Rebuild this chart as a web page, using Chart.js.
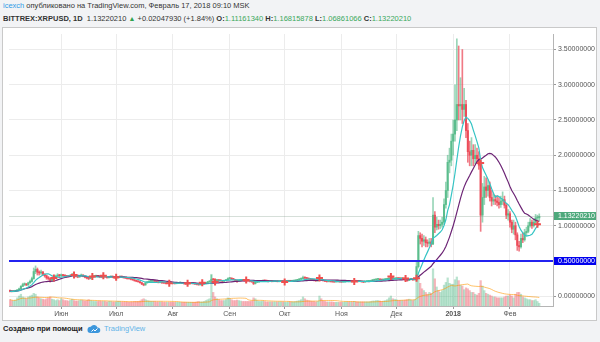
<!DOCTYPE html>
<html>
<head>
<meta charset="utf-8">
<script src="https://cdn.jsdelivr.net/npm/chart.js@4.4.0/dist/chart.umd.min.js"></script>
<style>
  body { margin: 0; width: 600px; height: 342px; background: #f2f3f5; overflow: hidden; position: relative;
         font-family: "Liberation Sans", Arial, sans-serif; }
  .hdr { position: absolute; left: 3px; font-size: 7.5px; line-height: 10px; color: #333; white-space: nowrap; }
  #h1 { top: 1px; }
  #h2 { top: 13.5px; }
  .nick { color: #2f9be6; }
  .g { color: #3aa85c; }
  .tri { color: #2ea24e; font-size: 7px; }
  #box { position: absolute; left: 2px; top: 27px; width: 593px; height: 292px; border: 1px solid #c9c9c9; background: #fff; }
  #foot { position: absolute; left: 3px; top: 324px; font-size: 7.5px; line-height: 10px; white-space: nowrap; }
  #foot .made { color: #222; font-weight: bold; }
  #foot svg { position: absolute; left: 84px; top: 0px; }
  #foot .tv { position: absolute; left: 101px; top: 0; color: #62b3e8; }
</style>
</head>
<body>
<div class="hdr" id="h1"><span class="nick">icexch</span> опубликовано на TradingView.com, Февраль 17, 2018 09:10 MSK</div>
<div class="hdr" id="h2"><b>BITTREX:XRPUSD, 1D</b>&nbsp; 1.13220210 <span class="tri">▲</span> +0.02047930 (+1.84%) <b>O:</b><span class="g">1.11161340</span> <b>H:</b><span class="g">1.16815878</span> <b>L:</b><span class="g">1.06861066</span> <b>C:</b><span class="g">1.13220210</span></div>
<div id="box"><canvas id="c" width="593" height="292"></canvas></div>
<div id="foot"><span class="made">Создано при помощи</span>
  <svg width="14" height="10" viewBox="0 0 28 20"><path d="M7 18h14a5.5 5.5 0 0 0 0-11 7.5 7.5 0 0 0-13.5-1.5A6 6 0 0 0 7 18z" fill="#3d97dc"/><path d="M9 15l4-4 3 3 5-5" stroke="#fff" stroke-width="2" fill="none"/></svg>
  <span class="tv">TradingView</span></div>
<script>
(() => {
    'use strict'

    // daily candles from 2017-05-04 to 2018-02-17 (open = previous close)
    const startDate = '2017-05-04'
    const totalDays = 297          // includes a few empty days on the right
    const firstOpen = 0.074

    const closes = [
        // May
        0.072, 0.066, 0.070, 0.076, 0.088, 0.105, 0.140, 0.165, 0.172, 0.160, 0.190, 0.210, 0.250, 0.350, 0.380, 0.340, 0.330, 0.345, 0.310, 0.290, 0.260, 0.250, 0.225, 0.245, 0.270, 0.285, 0.300, 0.290,
        // Jun
        0.300, 0.292, 0.288, 0.282, 0.280, 0.298, 0.310, 0.292, 0.280, 0.272, 0.290, 0.300, 0.282, 0.268, 0.258, 0.250, 0.268, 0.280, 0.282, 0.290, 0.282, 0.272, 0.270, 0.280, 0.272, 0.262, 0.270, 0.280, 0.272, 0.262,
        // Jul
        0.262, 0.270, 0.280, 0.272, 0.262, 0.258, 0.250, 0.248, 0.240, 0.232, 0.220, 0.212, 0.205, 0.192, 0.172, 0.160, 0.190, 0.200, 0.210, 0.212, 0.220, 0.212, 0.202, 0.195, 0.200, 0.190, 0.188, 0.182, 0.190, 0.188, 0.186,
        // Aug
        0.180, 0.178, 0.182, 0.188, 0.190, 0.182, 0.178, 0.172, 0.175, 0.180, 0.182, 0.178, 0.172, 0.168, 0.162, 0.165, 0.172, 0.180, 0.192, 0.202, 0.212, 0.240, 0.232, 0.222, 0.228, 0.222, 0.220, 0.212, 0.220, 0.232, 0.250,
        // Sep
        0.252, 0.245, 0.238, 0.222, 0.215, 0.222, 0.228, 0.225, 0.220, 0.218, 0.215, 0.210, 0.205, 0.180, 0.198, 0.202, 0.210, 0.212, 0.222, 0.218, 0.215, 0.210, 0.212, 0.208, 0.210, 0.212, 0.208, 0.210, 0.212, 0.210,
        // Oct
        0.210, 0.212, 0.215, 0.212, 0.215, 0.218, 0.225, 0.232, 0.240, 0.250, 0.262, 0.258, 0.252, 0.245, 0.238, 0.232, 0.225, 0.218, 0.222, 0.255, 0.232, 0.222, 0.212, 0.208, 0.212, 0.206, 0.204, 0.202, 0.204, 0.206, 0.204,
        // Nov
        0.202, 0.204, 0.208, 0.212, 0.210, 0.212, 0.210, 0.218, 0.212, 0.210, 0.212, 0.205, 0.200, 0.208, 0.210, 0.212, 0.220, 0.228, 0.232, 0.238, 0.240, 0.232, 0.230, 0.236, 0.240, 0.245, 0.255, 0.262, 0.245, 0.250,
        // Dec
        0.252, 0.250, 0.248, 0.252, 0.245, 0.232, 0.225, 0.240, 0.242, 0.232, 0.238, 0.420, 0.860, 0.820, 0.780, 0.800, 0.760, 0.750, 0.770, 0.740, 1.150, 0.980, 1.020, 1.000, 1.020, 1.050, 1.300, 1.500, 1.900, 1.930, 2.200,
        // Jan
        2.300, 2.500, 2.720, 2.700, 2.720, 2.650, 2.720, 2.350, 2.050, 2.000, 2.070, 1.950, 2.000, 1.950, 1.860, 1.150, 1.400, 1.550, 1.500, 1.570, 1.400, 1.350, 1.370, 1.350, 1.330, 1.300, 1.350, 1.370, 1.290, 1.150, 1.170,
        // Feb
        1.050, 0.950, 1.000, 0.870, 0.720, 0.700, 0.820, 0.800, 0.900, 0.920, 1.000, 1.050, 1.000, 1.050, 1.110, 1.1116, 1.1322
    ]

    const highs = [
        0.080, 0.075, 0.078, 0.082, 0.095, 0.115, 0.150, 0.185, 0.190, 0.180, 0.200, 0.230, 0.270, 0.400, 0.430, 0.400, 0.360, 0.370, 0.350, 0.320, 0.300, 0.280, 0.260, 0.260, 0.290, 0.300, 0.320, 0.310,
        0.315, 0.310, 0.300, 0.295, 0.292, 0.305, 0.325, 0.315, 0.296, 0.285, 0.300, 0.315, 0.305, 0.285, 0.275, 0.265, 0.275, 0.290, 0.292, 0.300, 0.295, 0.285, 0.280, 0.290, 0.285, 0.275, 0.280, 0.290, 0.285, 0.275,
        0.275, 0.278, 0.288, 0.285, 0.275, 0.268, 0.262, 0.258, 0.252, 0.245, 0.235, 0.225, 0.215, 0.208, 0.195, 0.178, 0.198, 0.212, 0.222, 0.222, 0.230, 0.225, 0.215, 0.205, 0.208, 0.202, 0.196, 0.192, 0.196, 0.195, 0.194,
        0.186, 0.186, 0.188, 0.195, 0.198, 0.192, 0.186, 0.180, 0.182, 0.186, 0.190, 0.186, 0.180, 0.175, 0.170, 0.172, 0.178, 0.186, 0.198, 0.210, 0.220, 0.300, 0.252, 0.238, 0.236, 0.232, 0.228, 0.225, 0.228, 0.238, 0.262,
        0.265, 0.258, 0.250, 0.240, 0.228, 0.230, 0.236, 0.232, 0.228, 0.225, 0.222, 0.218, 0.212, 0.208, 0.205, 0.210, 0.216, 0.218, 0.230, 0.226, 0.222, 0.218, 0.218, 0.215, 0.216, 0.218, 0.215, 0.216, 0.218, 0.216,
        0.216, 0.218, 0.222, 0.220, 0.220, 0.225, 0.232, 0.240, 0.250, 0.262, 0.285, 0.272, 0.262, 0.255, 0.248, 0.240, 0.235, 0.228, 0.230, 0.272, 0.262, 0.235, 0.225, 0.216, 0.218, 0.215, 0.210, 0.208, 0.210, 0.212, 0.210,
        0.208, 0.210, 0.215, 0.218, 0.216, 0.218, 0.216, 0.225, 0.222, 0.216, 0.218, 0.214, 0.208, 0.214, 0.216, 0.218, 0.226, 0.235, 0.238, 0.245, 0.248, 0.242, 0.236, 0.242, 0.246, 0.252, 0.262, 0.275, 0.268, 0.258,
        0.260, 0.258, 0.256, 0.260, 0.255, 0.248, 0.236, 0.248, 0.250, 0.245, 0.248, 0.480, 0.920, 0.900, 0.880, 0.860, 0.840, 0.800, 0.820, 0.820, 1.400, 1.200, 1.120, 1.080, 1.080, 1.120, 1.380, 1.620, 2.000, 2.100, 2.300,
        2.500, 3.000, 3.650, 3.550, 3.100, 3.500, 2.950, 2.780, 2.450, 2.200, 2.250, 2.150, 2.150, 2.100, 2.050, 1.900, 1.600, 1.700, 1.680, 1.650, 1.620, 1.500, 1.450, 1.430, 1.420, 1.400, 1.420, 1.480, 1.420, 1.320, 1.230,
        1.200, 1.080, 1.080, 1.050, 0.900, 0.780, 0.880, 0.900, 0.950, 0.980, 1.050, 1.100, 1.080, 1.100, 1.160, 1.150, 1.16815878
    ]

    const lows = [
        0.060, 0.060, 0.062, 0.068, 0.074, 0.085, 0.100, 0.135, 0.150, 0.150, 0.155, 0.180, 0.200, 0.240, 0.320, 0.300, 0.300, 0.310, 0.290, 0.270, 0.240, 0.230, 0.200, 0.215, 0.240, 0.260, 0.275, 0.275,
        0.282, 0.280, 0.278, 0.272, 0.270, 0.276, 0.292, 0.285, 0.272, 0.262, 0.268, 0.285, 0.275, 0.258, 0.245, 0.235, 0.245, 0.262, 0.272, 0.278, 0.275, 0.262, 0.262, 0.265, 0.265, 0.255, 0.258, 0.265, 0.262, 0.252,
        0.252, 0.256, 0.266, 0.265, 0.256, 0.250, 0.242, 0.240, 0.232, 0.225, 0.212, 0.205, 0.198, 0.185, 0.165, 0.148, 0.155, 0.185, 0.195, 0.202, 0.205, 0.205, 0.195, 0.188, 0.190, 0.182, 0.180, 0.175, 0.178, 0.180, 0.178,
        0.174, 0.172, 0.175, 0.180, 0.184, 0.178, 0.172, 0.166, 0.168, 0.172, 0.175, 0.172, 0.166, 0.160, 0.155, 0.158, 0.162, 0.170, 0.178, 0.188, 0.198, 0.208, 0.222, 0.215, 0.218, 0.214, 0.212, 0.205, 0.208, 0.218, 0.228,
        0.240, 0.236, 0.230, 0.212, 0.195, 0.210, 0.218, 0.218, 0.212, 0.210, 0.208, 0.202, 0.196, 0.165, 0.172, 0.192, 0.198, 0.205, 0.208, 0.210, 0.208, 0.202, 0.205, 0.202, 0.204, 0.205, 0.202, 0.204, 0.205, 0.204,
        0.204, 0.205, 0.208, 0.206, 0.208, 0.212, 0.215, 0.222, 0.230, 0.238, 0.245, 0.248, 0.242, 0.235, 0.230, 0.222, 0.216, 0.210, 0.212, 0.220, 0.225, 0.215, 0.205, 0.200, 0.202, 0.200, 0.198, 0.196, 0.198, 0.200, 0.198,
        0.195, 0.198, 0.202, 0.205, 0.204, 0.206, 0.204, 0.208, 0.206, 0.204, 0.205, 0.198, 0.192, 0.198, 0.204, 0.206, 0.210, 0.218, 0.225, 0.228, 0.232, 0.226, 0.224, 0.226, 0.232, 0.236, 0.242, 0.245, 0.236, 0.240,
        0.242, 0.242, 0.240, 0.244, 0.238, 0.222, 0.212, 0.222, 0.232, 0.225, 0.228, 0.235, 0.400, 0.740, 0.700, 0.720, 0.700, 0.700, 0.720, 0.700, 0.730, 0.900, 0.940, 0.950, 0.960, 0.980, 1.020, 1.250, 1.400, 1.750, 1.850,
        2.000, 2.200, 2.350, 2.500, 2.500, 2.450, 2.550, 2.250, 1.900, 1.850, 1.850, 1.850, 1.880, 1.880, 1.800, 0.920, 1.050, 1.300, 1.400, 1.420, 1.350, 1.280, 1.300, 1.300, 1.280, 1.250, 1.260, 1.300, 1.250, 1.100, 1.080,
        0.980, 0.900, 0.880, 0.800, 0.650, 0.640, 0.680, 0.760, 0.780, 0.860, 0.900, 0.980, 0.960, 0.980, 1.020, 1.070, 1.06861066
    ]

    // volume, millions
    const volumes = [
        14, 12, 11, 13, 18, 22, 26, 20, 18, 16, 20, 22, 24, 28, 26, 20, 18, 16, 15, 14, 16, 18, 20, 15, 14, 12, 14, 12,
        16, 14, 12, 12, 11, 13, 15, 12, 11, 11, 12, 13, 12, 11, 12, 14, 12, 11, 10, 10, 10, 11, 10, 10, 10, 9, 10, 10, 9, 9,
        9, 10, 10, 9, 9, 9, 9, 8, 9, 9, 10, 10, 10, 11, 14, 16, 14, 12, 11, 10, 10, 10, 9, 9, 9, 9, 8, 8, 8, 8, 8,
        8, 8, 8, 8, 8, 8, 8, 8, 8, 8, 8, 8, 8, 9, 10, 9, 9, 10, 12, 14, 16, 70, 30, 20, 16, 14, 12, 12, 12, 14, 18,
        16, 14, 12, 12, 13, 12, 11, 10, 10, 10, 10, 10, 11, 18, 16, 12, 10, 10, 11, 10, 9, 9, 9, 9, 9, 9, 9, 9, 9, 9,
        8, 8, 9, 9, 9, 9, 10, 11, 12, 14, 20, 16, 13, 12, 11, 10, 10, 9, 10, 22, 16, 11, 10, 9, 9, 9, 9, 8, 8, 8, 8,
        8, 8, 9, 9, 9, 9, 9, 10, 9, 9, 9, 9, 9, 9, 9, 9, 10, 11, 11, 12, 12, 11, 10, 11, 12, 14, 18, 22, 16, 15,
        14, 12, 12, 12, 12, 13, 14, 15, 13, 12, 14, 62, 70, 50, 38, 34, 30, 26, 30, 28, 82, 60, 42, 34, 30, 34, 46, 52, 62, 50, 48,
        48, 58, 64, 56, 46, 44, 36, 40, 38, 34, 30, 30, 26, 24, 28, 56, 44, 34, 28, 26, 24, 22, 20, 20, 18, 18, 18, 18, 20, 22, 22,
        24, 22, 18, 26, 30, 30, 26, 20, 18, 16, 14, 14, 12, 12, 14, 10, 6
    ]

    // red cross marks on the price line (day index, price)
    const markerDays = [24, 35, 45, 51, 58, 87, 97, 105, 112, 129, 150, 169, 188, 208, 216, 222, 257, 288]
    const markerPrices = [0.26, 0.30, 0.28, 0.29, 0.27, 0.185, 0.185, 0.19, 0.20, 0.23, 0.20, 0.26, 0.21, 0.28, 0.25, 0.255, 1.89, 1.02]

    const tickDates = ['2017-06-01', '2017-07-01', '2017-08-01', '2017-09-01', '2017-10-01', '2017-11-01', '2017-12-01', '2018-01-01', '2018-02-01']
    const tickNames = ['Июн', 'Июл', 'Авг', 'Сен', 'Окт', 'Ноя', 'Дек', '2018', 'Фев']

    const lastPrice = 1.1322021
    const levelPrice = 0.5

    const fastLen = 9
    const slowLen = 25
    const volLen = 20

    // ---------------------------------------------------------------
    var labels = []
    var t0 = Date.parse(startDate + 'T00:00:00Z')
    for (var i = 0; i < totalDays; i++) {
        labels.push(new Date(t0 + i * 86400000).toISOString().slice(0, 10))
    }
    function tickIdx(i) { return tickDates.indexOf(labels[i]) }

    var opens = closes.map((c, i) => i === 0 ? firstOpen : closes[i - 1])
    var up = closes.map((c, i) => c >= opens[i])

    function sma(arr, n) {
        return arr.map((v, i) => {
            var s = 0, k = 0
            for (var j = Math.max(0, i - n + 1); j <= i; j++) { s += arr[j]; k++ }
            return s / k
        })
    }

    var wicks = closes.map((c, i) => [Math.min(lows[i], opens[i], c), Math.max(highs[i], opens[i], c)])
    var bodies = closes.map((c, i) => [opens[i], c])
    var markers = labels.map(() => null)
    markerDays.forEach((d, k) => { markers[d] = markerPrices[k] })

    const GREEN = '#5bbd8d', RED = '#ec4b58'
    const font = '"Liberation Sans", Arial, sans-serif'
    Chart.defaults.font.family = font

    const overlay = {
        id: 'overlay',
        afterDatasetsDraw(chart) {
            const { ctx, chartArea: a, scales: { y } } = chart
            ctx.save()
            var py = Math.round(y.getPixelForValue(lastPrice)) + 0.5
            ctx.strokeStyle = 'rgba(120,150,130,0.3)'
            ctx.lineWidth = 1
            ctx.beginPath(); ctx.moveTo(a.left, py); ctx.lineTo(a.right, py); ctx.stroke()
            py = Math.round(y.getPixelForValue(levelPrice))
            ctx.strokeStyle = '#2323f0'
            ctx.lineWidth = 2
            ctx.beginPath(); ctx.moveTo(a.left, py); ctx.lineTo(a.right, py); ctx.stroke()
            ctx.restore()
        },
        afterDraw(chart) {
            const { ctx, scales: { y } } = chart
            ctx.save()
            ;[[lastPrice, '#4ea97c'], [levelPrice, '#0000ee']].forEach(([v, col]) => {
                var py = Math.round(y.getPixelForValue(v))
                ctx.fillStyle = col
                ctx.fillRect(y.left + 1, py - 4, y.right - y.left - 1, 8)
                ctx.fillStyle = '#fff'
                ctx.font = '7px ' + font
                ctx.textBaseline = 'middle'
                ctx.fillText(v.toFixed(8), y.left + 5, py + 0.5)
            })
            ctx.restore()
        }
    }

    new Chart(document.getElementById('c'), {
        type: 'bar',
        data: {
            labels: labels,
            datasets: [
                {
                    type: 'line', data: sma(closes, fastLen), borderColor: '#35c4c4', borderWidth: 1.2,
                    pointRadius: 0, yAxisID: 'y', order: 4
                },
                {
                    type: 'line', data: sma(closes, slowLen), borderColor: '#6c2475', borderWidth: 1.2,
                    pointRadius: 0, yAxisID: 'y', order: 5
                },
                {
                    type: 'line', data: markers, showLine: false, pointStyle: 'cross', pointRadius: 3.5,
                    pointBorderWidth: 2, pointBorderColor: '#ef4f4f', yAxisID: 'y', order: 3
                },
                {
                    data: wicks, backgroundColor: up.map(u => u ? 'rgba(83,185,135,0.6)' : 'rgba(235,77,92,0.75)'),
                    barThickness: 1, grouped: false, yAxisID: 'y', order: 8
                },
                {
                    data: bodies, backgroundColor: up.map(u => u ? GREEN : RED), minBarLength: 1,
                    barThickness: 1.4, grouped: false, yAxisID: 'y', order: 7
                },
                {
                    data: volumes, backgroundColor: up.map(u => u ? 'rgba(83,185,135,0.4)' : 'rgba(235,77,92,0.4)'),
                    barThickness: 1.6, grouped: false, yAxisID: 'y2', order: 10
                },
                {
                    type: 'line', data: sma(volumes, volLen), borderColor: 'rgba(255,152,0,0.6)', borderWidth: 1,
                    pointRadius: 0, yAxisID: 'y2', order: 9
                }
            ]
        },
        options: {
            responsive: false,
            animation: false,
            events: [],
            layout: { padding: 0 },
            plugins: { legend: { display: false }, tooltip: { enabled: false } },
            scales: {
                x: {
                    offset: true,
                    afterFit(s) { s.height = 14; s.paddingLeft = 0; s.paddingRight = 0 },
                    border: { color: '#b5b5b5' },
                    grid: {
                        offset: false,
                        tickLength: 3,
                        color: c => tickIdx(c.index) >= 0 ? '#ececec' : 'transparent',
                        tickColor: c => tickIdx(c.index) >= 0 ? '#999' : 'transparent'
                    },
                    ticks: {
                        autoSkip: false, maxRotation: 0, minRotation: 0, padding: 1, color: '#555',
                        font: c => ({ size: 7, weight: labels[c.index] === '2018-01-01' ? 'bold' : 'normal' }),
                        callback: (v, i) => { var k = tickIdx(i); return k >= 0 ? tickNames[k] : '' }
                    }
                },
                y: {
                    position: 'right',
                    min: -0.139, max: 3.72,
                    afterFit(s) { s.width = 43; s.paddingTop = 0; s.paddingBottom = 0 },
                    border: { color: '#b5b5b5' },
                    grid: { color: '#ececec', tickLength: 3, tickColor: '#999' },
                    ticks: {
                        stepSize: 0.5, includeBounds: false, padding: 2, color: '#555', font: { size: 7 },
                        callback: v => v >= 0 ? v.toFixed(8) : ''
                    }
                },
                y2: { display: false, min: 0, max: 600 }
            }
        },
        plugins: [overlay]
    })
})()
</script>
</body>
</html>
